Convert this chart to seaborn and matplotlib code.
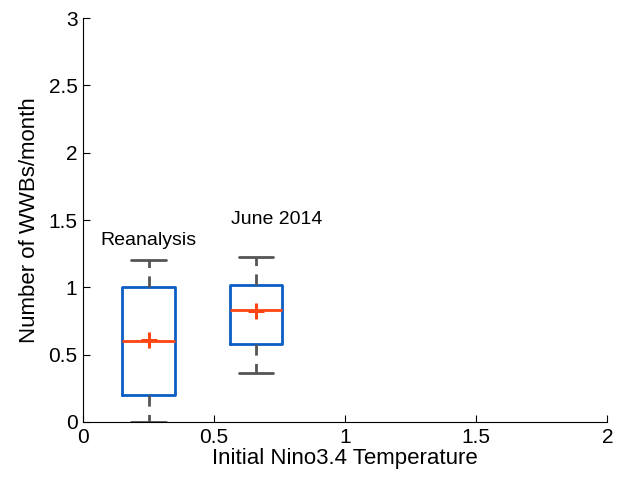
import matplotlib
matplotlib.use("Agg")
import matplotlib.pyplot as plt
import seaborn as sns

sns.set_theme(style="ticks")
plt.rcParams['font.family'] = ['Liberation Sans', 'DejaVu Sans']
plt.rcParams['text.color'] = 'black'
plt.rcParams['axes.labelcolor'] = 'black'

labels = ["Reanalysis", "June 2014"]
positions = [0.25, 0.66]
whislo = [0.0, 0.366]
q1 = [0.2, 0.58]
med = [0.6, 0.833]
q3 = [1.0, 1.02]
whishi = [1.2, 1.225]
means = [0.61, 0.825]
label_x = [0.065, 0.564]
label_y = [1.315, 1.467]

xticks = [0, 0.5, 1, 1.5, 2]
yticks = [0, 0.5, 1, 1.5, 2, 2.5, 3]

stats = [dict(label=l, whislo=a, q1=b, med=c, q3=d, whishi=e, mean=m, fliers=[])
         for l, a, b, c, d, e, m in zip(labels, whislo, q1, med, q3, whishi, means)]

fig = plt.figure(figsize=(6.22, 4.82), dpi=100)
ax = fig.add_axes([0.1334, 0.1245, 0.843, 0.838])

blue = "#0A5EC4"
orange = "#FF4512"
gray = "#555555"
ax.bxp(stats, positions=positions, widths=0.2, showmeans=True, manage_ticks=False,
       boxprops=dict(color=blue, linewidth=2),
       medianprops=dict(color=orange, linewidth=2),
       whiskerprops=dict(color=gray, linewidth=2, linestyle=(0, (4, 3))),
       capprops=dict(color=gray, linewidth=2),
       capwidths=0.13,
       meanprops=dict(marker='+', markeredgecolor=orange, markersize=11, markeredgewidth=2.2))

for l, x, y in zip(labels, label_x, label_y):
    ax.text(x, y, l, ha='left', va='baseline', fontsize=14, color='black')

ax.set_xlim(0, 2)
ax.set_ylim(0, 3)
ax.set_xticks(xticks)
ax.set_xticklabels(["0", "0.5", "1", "1.5", "2"])
ax.set_yticks(yticks)
ax.set_yticklabels(["0", "0.5", "1", "1.5", "2", "2.5", "3"])
ax.tick_params(direction='in', length=5, width=0.8, labelsize=15, colors='black', pad=4)
ax.set_xlabel("Initial Nino3.4 Temperature", fontsize=16, labelpad=1, color='black')
ax.set_ylabel("Number of WWBs/month", fontsize=16, labelpad=6, color='black')
for s in ['top', 'right']:
    ax.spines[s].set_visible(False)
for s in ['left', 'bottom']:
    ax.spines[s].set_color('black')
    ax.spines[s].set_linewidth(0.8)

fig.savefig("out.png", dpi=100)
